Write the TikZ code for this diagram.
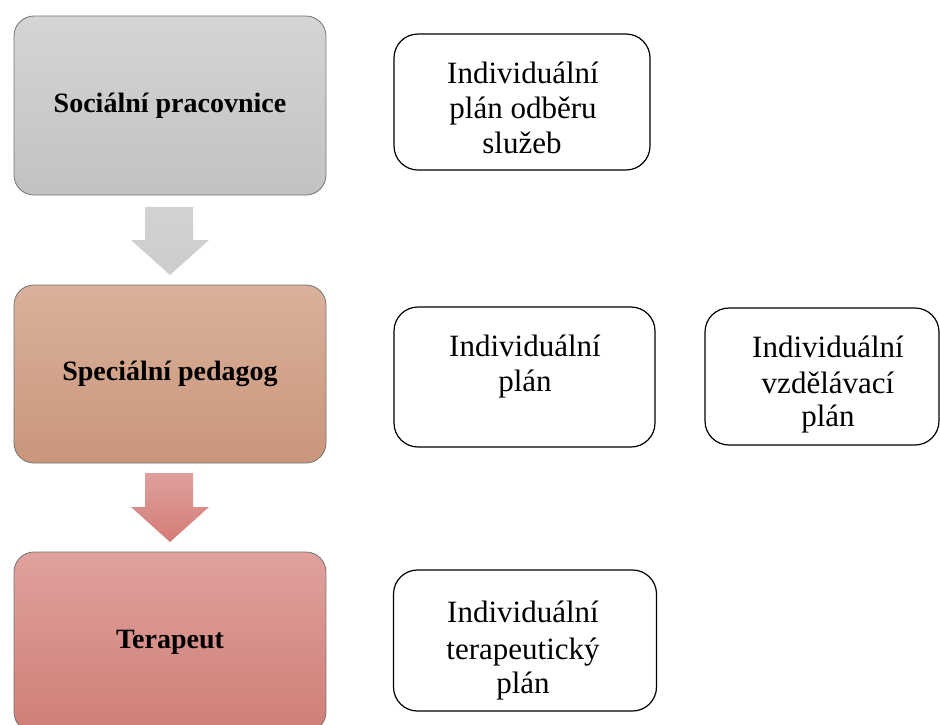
\documentclass[tikz,border=0pt]{standalone}
\usepackage{fontspec}
\setmainfont{Liberation Serif}
\begin{document}
\begin{tikzpicture}[x=1pt,y=-1pt,
  rolebox/.style={rectangle, rounded corners=20pt, draw=black!55, line width=0.8pt,
    minimum width=312pt, inner sep=0pt, font=\fontsize{28}{32}\selectfont\bfseries, align=center},
  planbox/.style={rectangle, rounded corners=24pt, draw=black, line width=1.2pt,
    inner sep=0pt, fill=white},
  plantext/.style={font=\fontsize{31}{36}\selectfont, align=center, inner sep=0pt, anchor=base},
  blockarrow/.style={line width=0pt}
]
\useasboundingbox (0,0) rectangle (940,724);
% left role boxes
\node[rolebox, minimum height=179pt, top color=gray!33, bottom color=gray!48] (soc) at (170,105.5) {Sociální pracovnice};
\node[rolebox, minimum height=178pt, top color={rgb,255:red,218;green,177;blue,155}, bottom color={rgb,255:red,201;green,150;blue,122}] (ped) at (170,374) {Speciální pedagog};
\node[rolebox, minimum height=180pt, top color={rgb,255:red,224;green,161;blue,157}, bottom color={rgb,255:red,208;green,126;blue,119}] (ter) at (170,642) {Terapeut};
% block arrows
\path[blockarrow, top color=gray!35, bottom color=gray!40]
  (145,207) -- (193,207) -- (193,240) -- (209,240) -- (170,275) -- (131,240) -- (145,240) -- cycle;
\path[blockarrow, top color={rgb,255:red,223;green,160;blue,157}, bottom color={rgb,255:red,212;green,124;blue,118}]
  (145,473) -- (193,473) -- (193,507) -- (209,507) -- (170,542) -- (131,507) -- (145,507) -- cycle;
% right plan boxes
\node[planbox, minimum width=256pt, minimum height=136pt] (pa) at (522,102) {};
\node[plantext] (pa1) at (523,83) {Individuální};
\node[plantext] (pa2) at (523,118) {plán odběru};
\node[plantext] (pa3) at (522,153) {služeb};

\node[planbox, minimum width=261pt, minimum height=140pt] (pb) at (524.5,377) {};
\node[plantext] (pb1) at (525,356) {Individuální};
\node[plantext] (pb2) at (525,391) {plán};

\node[planbox, minimum width=234pt, minimum height=137pt] (pc) at (822,376.5) {};
\node[plantext] (pc1) at (828,357) {Individuální};
\node[plantext] (pc2) at (828,393) {vzdělávací};
\node[plantext] (pc3) at (828,426) {plán};

\node[planbox, minimum width=263pt, minimum height=141pt] (pd) at (525,640.5) {};
\node[plantext] (pd1) at (523,622) {Individuální};
\node[plantext] (pd2) at (523,659) {terapeutický};
\node[plantext] (pd3) at (523,693) {plán};
\end{tikzpicture}
\end{document}
